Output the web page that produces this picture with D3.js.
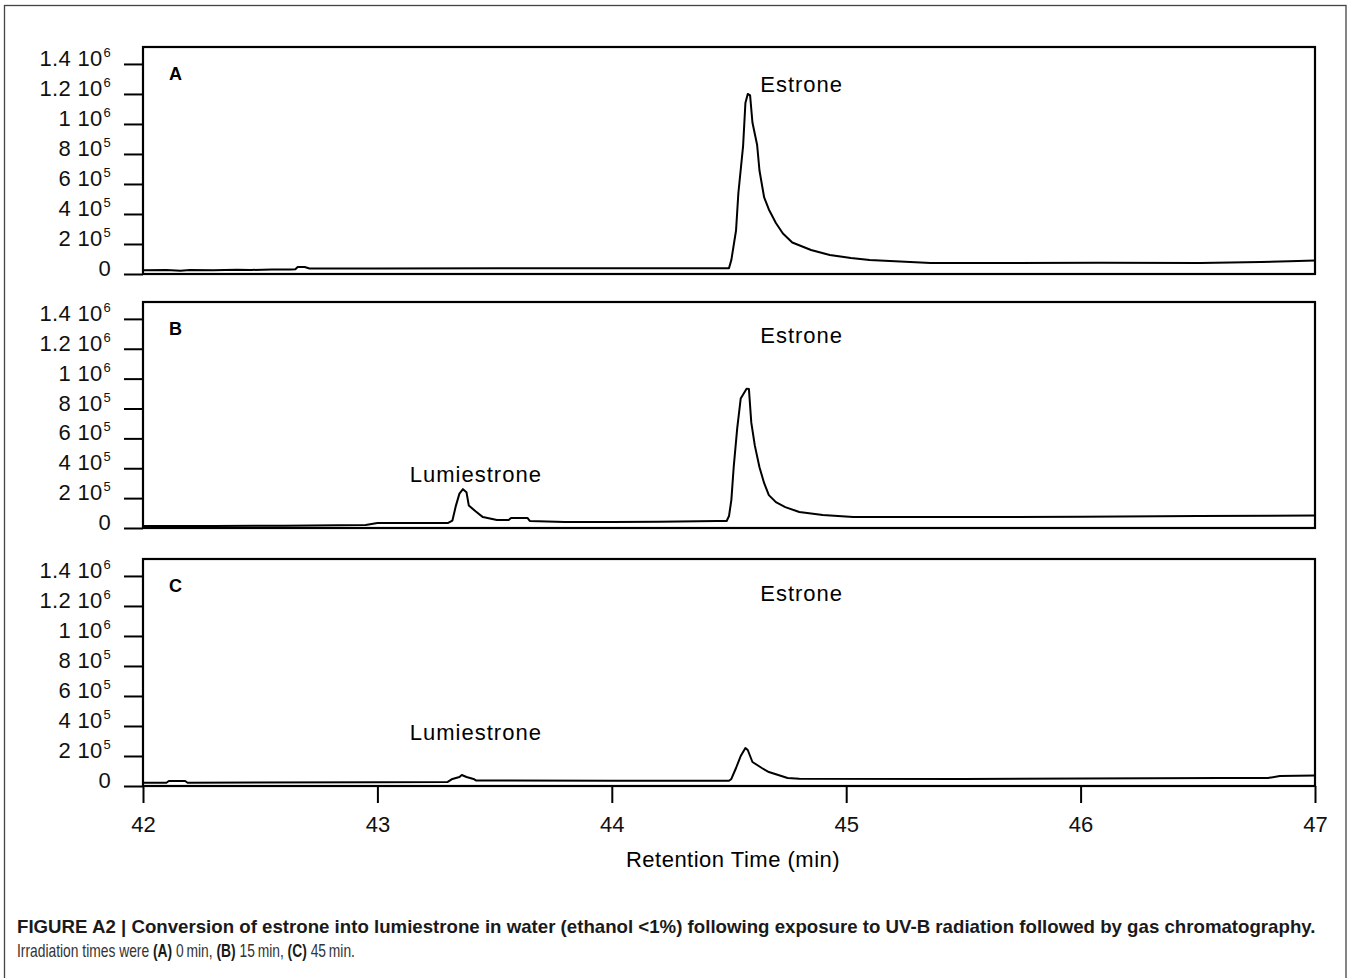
<!DOCTYPE html>
<html>
<head>
<meta charset="utf-8">
<script src="https://cdn.jsdelivr.net/npm/d3@7"></script>
<style>
  html, body { margin: 0; padding: 0; background: #fff; }
  svg { display: block; }
</style>
</head>
<body>
<svg id="chart" width="1350" height="978"></svg>
<script>
// ---------------- DATA ----------------
const panelLabels = ["A", "B", "C"];
const xTickValues = [42, 43, 44, 45, 46, 47];
const yTickValues = [0, 200000, 400000, 600000, 800000, 1000000, 1200000, 1400000];
const yTickBase = ["0", "2 10", "4 10", "6 10", "8 10", "1 10", "1.2 10", "1.4 10"];
const yTickExp = ["", "5", "5", "5", "5", "6", "6", "6"];

// Panel A (0 min irradiation)
const timeA = [42.00, 42.10, 42.16, 42.20, 42.30, 42.40, 42.46, 42.55, 42.63, 42.65, 42.66, 42.69, 42.71, 43.00, 43.52, 44.00, 44.44, 44.50,
  44.51, 44.53, 44.54, 44.56, 44.57, 44.58, 44.59, 44.60, 44.62, 44.63, 44.65, 44.67, 44.70, 44.73, 44.77, 44.85, 44.93, 45.02, 45.10,
  45.36, 45.66, 46.08, 46.51, 46.77, 46.89, 47.00];
const valA = [25000, 27000, 22000, 27000, 25000, 28000, 27000, 30000, 30000, 32000, 47000, 47000, 37000, 37000, 38000, 38000, 38000, 39000,
  93000, 290000, 540000, 850000, 1140000, 1200000, 1190000, 1010000, 860000, 690000, 510000, 430000, 340000, 270000, 210000, 160000, 127000, 107000, 93000,
  73000, 73000, 75000, 73000, 80000, 85000, 90000];

// Panel B (15 min irradiation)
const timeB = [42.00, 42.30, 42.60, 42.95, 43.00, 43.30, 43.32, 43.335, 43.35, 43.365, 43.38, 43.39, 43.42, 43.45, 43.51, 43.56, 43.57, 43.64, 43.65,
  43.80, 44.00, 44.20, 44.45, 44.49, 44.50, 44.51, 44.52, 44.535, 44.55, 44.575, 44.585, 44.595, 44.61, 44.63, 44.65, 44.67, 44.70, 44.74,
  44.80, 44.90, 45.03, 45.50, 46.00, 46.50, 47.00];
const valB = [13000, 14000, 15000, 20000, 33000, 33000, 50000, 150000, 230000, 260000, 240000, 150000, 110000, 73000, 53000, 53000, 67000, 67000, 47000,
  40000, 40000, 42000, 47000, 47000, 80000, 187000, 407000, 667000, 867000, 933000, 930000, 707000, 553000, 407000, 300000, 220000, 173000, 140000,
  107000, 87000, 73000, 73000, 76000, 80000, 83000];

// Panel C (45 min irradiation)
const timeC = [42.00, 42.10, 42.11, 42.18, 42.19, 43.00, 43.30, 43.32, 43.35, 43.36, 43.38, 43.41, 43.42, 44.00, 44.50,
  44.51, 44.53, 44.55, 44.57, 44.58, 44.60, 44.64, 44.67, 44.71, 44.75, 44.80, 45.50, 46.00, 46.60, 46.80, 46.85, 47.00];
const valC = [22000, 22000, 33000, 33000, 22000, 25000, 27000, 47000, 60000, 73000, 60000, 47000, 37000, 35000, 35000,
  47000, 120000, 200000, 253000, 240000, 160000, 120000, 93000, 73000, 53000, 48000, 47000, 50000, 53000, 53000, 67000, 70000];

// Peak annotations
const peakNamesA = ["Estrone"];
const peakTimesA = [44.81];
const peakNamesB = ["Lumiestrone", "Estrone"];
const peakTimesB = [43.42, 44.81];
const peakNamesC = ["Lumiestrone", "Estrone"];
const peakTimesC = [43.42, 44.81];

const captionTitle = "FIGURE A2 | Conversion of estrone into lumiestrone in water (ethanol <1%) following exposure to UV-B radiation followed by gas chromatography.";
const captionParts = [["Irradiation times were ", false], ["(A)", true], [" 0\u2009min, ", false], ["(B)", true], [" 15\u2009min, ", false], ["(C)", true], [" 45\u2009min.", false]];
const xTitle = "Retention Time (min)";

// ---------------- LAYOUT ----------------
const svg = d3.select("#chart");
const left = 143, right = 1315;
const panelTops = [47, 302, 559];
const panelBottoms = [274, 528, 786];
const yMax = 1513000;
const font = "'Liberation Sans', Arial, sans-serif";

// outer frame
svg.append("rect").attr("x", 4.5).attr("y", 5.5).attr("width", 1341.5).attr("height", 1000)
  .attr("fill", "none").attr("stroke", "#444").attr("stroke-width", 1.3);

const x = d3.scaleLinear().domain([42, 47]).range([left, right]);

const series = [
  {t: timeA, v: valA, names: peakNamesA, times: peakTimesA},
  {t: timeB, v: valB, names: peakNamesB, times: peakTimesB},
  {t: timeC, v: valC, names: peakNamesC, times: peakTimesC}
];
const annotY = [[92], [482, 343], [740, 601]];

series.forEach((s, i) => {
  const y = d3.scaleLinear().domain([0, yMax]).range([panelBottoms[i], panelTops[i]]);
  const g = svg.append("g");

  // y axis ticks
  const ax = g.append("g").attr("transform", `translate(${left},0)`)
    .call(d3.axisLeft(y).tickValues(yTickValues).tickSize(19).tickFormat(""));
  ax.select(".domain").remove();
  ax.selectAll(".tick line").attr("stroke", "#000").attr("stroke-width", 2);

  // y tick labels with superscript exponent
  const lab = g.selectAll("text.ylab").data(yTickValues).enter().append("text")
    .attr("class", "ylab")
    .attr("x", 111)
    .attr("y", d => y(d) + 2)
    .attr("text-anchor", "end")
    .attr("font-family", font).attr("font-size", 22).attr("letter-spacing", 0.3)
    .attr("fill", "#111");
  lab.append("tspan").text((d, k) => yTickBase[k]);
  lab.append("tspan").attr("font-size", 13).attr("dy", -9).attr("dx", 1)
    .text((d, k) => yTickExp[k]);

  // trace
  const pts = s.t.map((t, k) => [t, s.v[k]]);
  g.append("path").datum(pts)
    .attr("fill", "none").attr("stroke", "#000").attr("stroke-width", 2).attr("stroke-linejoin", "round")
    .attr("d", d3.line().x(d => x(d[0])).y(d => y(d[1])));

  // panel box
  g.append("rect").attr("x", left).attr("y", panelTops[i])
    .attr("width", right - left).attr("height", panelBottoms[i] - panelTops[i])
    .attr("fill", "none").attr("stroke", "#000").attr("stroke-width", 2.2);

  // panel letter
  g.append("text").attr("x", 169).attr("y", panelTops[i] + 33)
    .attr("font-family", "Arial, 'Liberation Sans', sans-serif").attr("font-weight", "bold").attr("font-size", 18)
    .text(panelLabels[i]);

  // peak annotations
  s.names.forEach((nm, k) => {
    g.append("text").attr("x", x(s.times[k])).attr("y", annotY[i][k])
      .attr("text-anchor", "middle")
      .attr("font-family", font).attr("font-size", 22).attr("letter-spacing", 1)
      .text(nm);
  });

  // x axis on the bottom panel
  if (i === 2) {
    const xa = g.append("g").attr("transform", `translate(0,${panelBottoms[i]})`)
      .call(d3.axisBottom(x).tickValues(xTickValues).tickSize(17).tickFormat(d3.format("d")));
    xa.select(".domain").remove();
    xa.selectAll(".tick line").attr("stroke", "#000").attr("stroke-width", 2);
    xa.selectAll(".tick text").attr("y", 46).attr("dy", 0)
      .attr("font-family", font).attr("font-size", 22).attr("fill", "#111");
  }
});

// x axis title
svg.append("text").attr("x", 733).attr("y", 867).attr("text-anchor", "middle")
  .attr("font-family", font).attr("font-size", 22).attr("letter-spacing", 0.5)
  .text(xTitle);

// caption
const capFont = "'Liberation Sans Narrow', 'Arial Narrow', 'Liberation Sans', Arial, sans-serif";
const cap1 = svg.append("text")
  .attr("font-family", capFont)
  .attr("font-weight", "bold").attr("font-size", 18).attr("fill", "#1a1a1a")
  .text(captionTitle);
const w1 = cap1.node().getComputedTextLength();
cap1.attr("transform", `translate(17,933) scale(${1299 / w1},1)`);

const cap2 = svg.append("text")
  .attr("font-family", capFont)
  .attr("font-size", 18).attr("fill", "#333");
captionParts.forEach(p => {
  cap2.append("tspan").attr("font-weight", p[1] ? "bold" : "normal").attr("fill", p[1] ? "#1a1a1a" : "#333").text(p[0]);
});
const w2 = cap2.node().getComputedTextLength();
cap2.attr("transform", `translate(17,957) scale(${338 / w2},1)`);
</script>
</body>
</html>
